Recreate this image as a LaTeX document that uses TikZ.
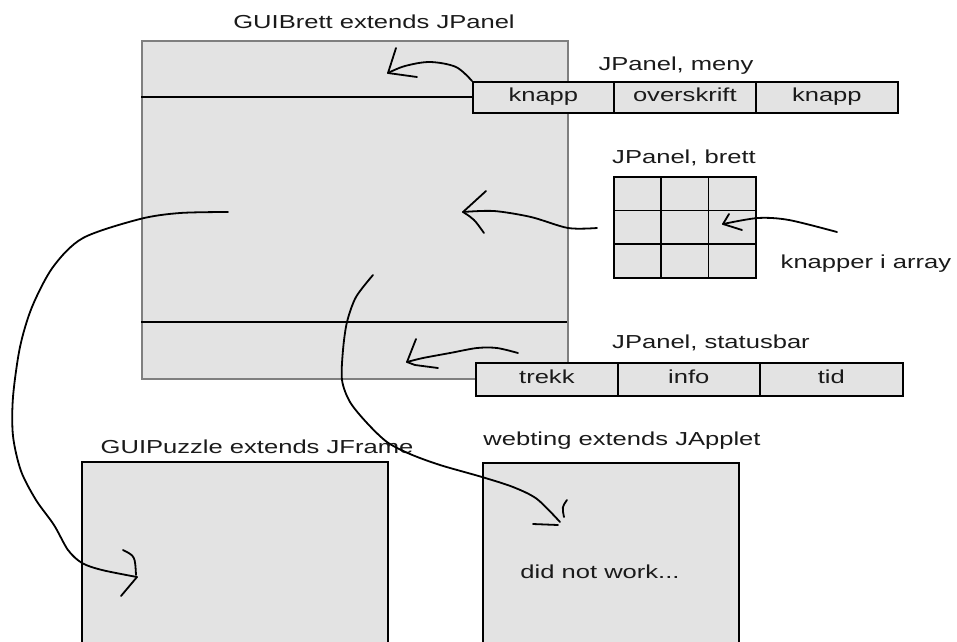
\documentclass[tikz,border=0pt]{standalone}
\usepackage{fontspec}
\setmainfont{Liberation Sans}[FakeStretch=1.36]
\definecolor{boxgray}{HTML}{E3E3E3}
\definecolor{framegray}{HTML}{7F7F7F}
\definecolor{ink}{HTML}{1A1A1A}
\newcommand\diagfont{\fontsize{18.8}{22}\selectfont}
\begin{document}
\begin{tikzpicture}[x=1pt,y=-1pt,
  box/.style={draw=black, line width=1.7pt, fill=boxgray, inner sep=0pt, anchor=north west},
  frame/.style={draw=framegray, line width=1.7pt, fill=boxgray, inner sep=0pt, anchor=north west},
  cell/.style={box, text=ink, font=\diagfont, text height=13pt, text depth=4pt},
  rule/.style={draw=black, line width=1.8pt},
  lbl/.style={anchor=base, inner sep=0pt, font=\diagfont, text=ink},
  pen/.style={draw=black, line width=1.8pt, line cap=round, line join=round},
]
\useasboundingbox (0,0) rectangle (957,641);
\clip (0,0) rectangle (957,641);

% GUIBrett panel with its two separator lines
\node[frame, minimum width=426pt, minimum height=338pt] (main) at (141,40) {};
\coordinate (sepL) at (141,322);
\coordinate (sepR) at (567,322);
\draw[rule] (sepL) -- (sepR);

% menu bar
\node[cell, minimum width=141pt, minimum height=31pt] (m1) at (472,81) {knapp};
\node[cell, minimum width=142pt, minimum height=31pt] (m2) at (613,81) {overskrift};
\node[cell, minimum width=142pt, minimum height=31pt] (m3) at (755,81) {knapp};
\draw[rule] (main.west |- m1.west) -- (m1.west);

% status bar
\node[cell, minimum width=142pt, minimum height=33pt] (s1) at (475,362) {trekk};
\node[cell, minimum width=142pt, minimum height=33pt] (s2) at (617,362) {info};
\node[cell, minimum width=143pt, minimum height=33pt] (s3) at (759,362) {tid};

% board of buttons
\foreach \i in {0,1,2}{
  \foreach \j in {0,1,2}{
    \node[box, minimum width=47.3pt, minimum height=33.7pt] (g\i\j) at ({613+47.3*\j},{176+33.7*\i}) {};
  }
}

% frame and applet windows
\node[box, minimum width=306pt, minimum height=200pt] (puzzle) at (81,461) {};
\node[box, minimum width=256pt, minimum height=200pt] (applet) at (482,462) {};

% labels
\node[lbl] (tMain) at (374,28) {GUIBrett extends JPanel};
\node[lbl] (tMeny) at (676,70) {JPanel, meny};
\node[lbl] (tBrett) at (684,163) {JPanel, brett};
\node[lbl] (tStatus) at (711,348) {JPanel, statusbar};
\node[lbl] (tArray) at (866,268) {knapper i array};
\node[lbl] (tPuzzle) at (257,453) {GUIPuzzle extends JFrame};
\node[lbl] (tApplet) at (622,445) {webting extends JApplet};
\node[lbl] (tFail) at (600,578) {did not work...};

% hand-drawn arrows
\coordinate (aMenu) at (388,73);
\draw[pen] plot[smooth, tension=0.55] coordinates {(m1.north west) (456,67) (430,62) (405,66) (aMenu)};
\draw[pen] (396,48) -- (aMenu) -- (417,77);

\coordinate (bStart) at (597,228);
\coordinate (aBrett) at (463,212);
\draw[pen] plot[smooth, tension=0.5] coordinates {(bStart) (568,228) (531,217) (494,211) (aBrett)};
\draw[pen] (486,191) -- (aBrett) .. controls (474,219) .. (484,233);

\coordinate (kStart) at (837,232);
\coordinate (aKnapp) at (723,224);
\draw[pen] plot[smooth, tension=0.5] coordinates {(kStart) (789,220) (758,218) (aKnapp)};
\draw[pen] (729,214) -- (aKnapp) -- (742,230);

\coordinate (sStart) at (518,353);
\coordinate (aStatus) at (407,362);
\draw[pen] plot[smooth, tension=0.5] coordinates {(sStart) (497,348) (477,348) (450,353) (423,358) (aStatus)};
\draw[pen] (416,339) -- (aStatus) -- (415,365) -- (438,368);

\coordinate (lStart) at (228,212);
\coordinate (aPuzzle) at (137,577);
\draw[pen] plot[smooth, tension=0.5] coordinates {(lStart) (180,213) (140,219) (83,238) (53,267) (32,307) (20,347) (13,397) (13,436) (21,471) (36,500) (54,525) (68,550) (82,563) (102,570) (aPuzzle)};
\draw[pen] (123,550) .. controls (135,556) .. (136,575);
\draw[pen] (aPuzzle) -- (121,596);

\coordinate (cStart) at (373,275);
\coordinate (aApplet) at (560,522);
\draw[pen] plot[smooth, tension=0.5] coordinates {(cStart) (356,297) (347,322) (343,350) (342,380) (350,402) (367,423) (387,442) (410,454) (440,465) (482,477) (513,487) (537,499) (aApplet)};
\draw[pen] (567,500) .. controls (562,507) .. (564,517);
\draw[pen] (533,524) -- (558,525);
\end{tikzpicture}
\end{document}
